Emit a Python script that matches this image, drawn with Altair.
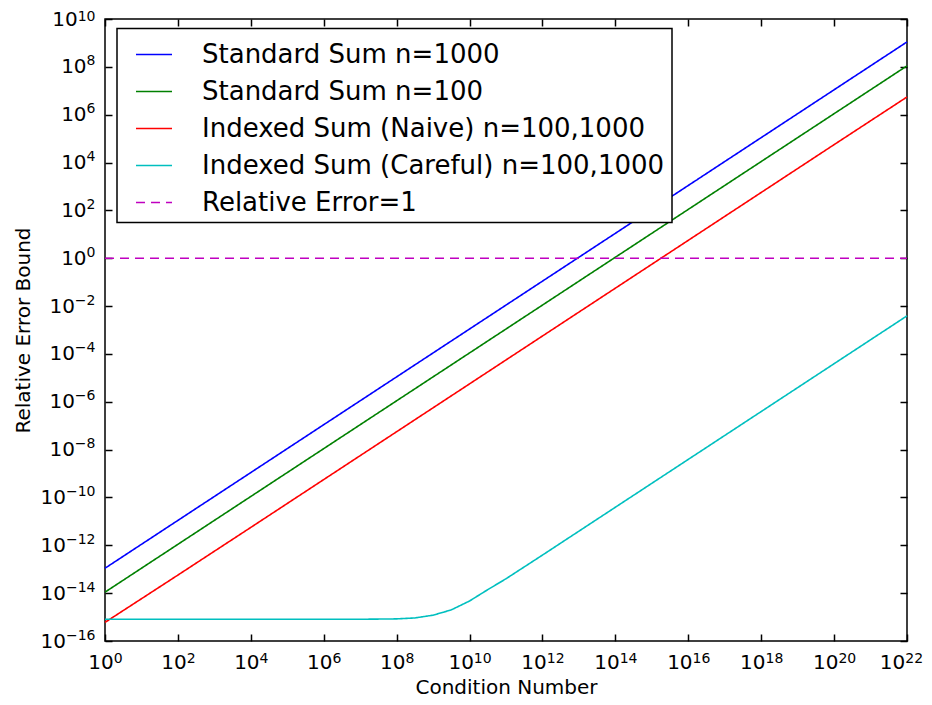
import altair as alt
import pandas as pd

# ---------------- data ----------------
series_names = [
    "Standard Sum n=1000",
    "Standard Sum n=100",
    "Indexed Sum (Naive) n=100,1000",
    "Indexed Sum (Careful) n=100,1000",
    "Relative Error=1",
]
series_colors = ["#0000ff", "#008000", "#ff0000", "#00bfbf", "#bf00bf"]
series_dashes = [[1, 0], [1, 0], [1, 0], [1, 0], [9, 6]]

line_x = [1e0, 1e2, 1e4, 1e6, 1e8, 1e10, 1e12, 1e14, 1e16, 1e18, 1e20, 1e22]
std_1000 = [1.1e-13, 1.1e-11, 1.1e-9, 1.1e-7, 1.1e-5, 1.1e-3, 1.1e-1, 1.1e1, 1.1e3, 1.1e5, 1.1e7, 1.1e9]
std_100 = [1.1e-14, 1.1e-12, 1.1e-10, 1.1e-8, 1.1e-6, 1.1e-4, 1.1e-2, 1.1e0, 1.1e2, 1.1e4, 1.1e6, 1.1e8]
naive = [6.0e-16, 5.7e-14, 5.6e-12, 5.6e-10, 5.6e-8, 5.6e-6, 5.6e-4, 5.6e-2, 5.6e0, 5.6e2, 5.6e4, 5.5e6]

careful_x = [1e0, 1e2, 1e4, 1e6, 1e7, 1e8, 3.16e8, 1e9, 3.16e9, 1e10, 3.16e10, 1e11,
             1e12, 1e14, 1e16, 1e18, 1e20, 1e22]
careful_y = [8.1e-16, 8.1e-16, 8.1e-16, 8.1e-16, 8.1e-16, 8.4e-16, 9.2e-16, 1.2e-15, 2.0e-15,
             4.7e-15, 1.4e-14, 4.0e-14, 3.9e-13, 3.9e-11, 3.9e-9, 3.9e-7, 3.9e-5, 3.9e-3]

ref_x = [1e0, 1e22]
ref_y = [1.0, 1.0]

# tick labels: base "10" and superscript exponent
x_tick_exps = [0, 2, 4, 6, 8, 10, 12, 14, 16, 18, 20, 22]
x_tick_values = [1e0, 1e2, 1e4, 1e6, 1e8, 1e10, 1e12, 1e14, 1e16, 1e18, 1e20, 1e22]
x_tick_exp_labels = ["0", "2", "4", "6", "8", "10", "12", "14", "16", "18", "20", "22"]
y_tick_exps = [-16, -14, -12, -10, -8, -6, -4, -2, 0, 2, 4, 6, 8, 10]
y_tick_values = [1e-16, 1e-14, 1e-12, 1e-10, 1e-8, 1e-6, 1e-4, 1e-2, 1e0, 1e2, 1e4, 1e6, 1e8, 1e10]
y_tick_exp_labels = ["−16", "−14", "−12", "−10", "−8", "−6", "−4", "−2",
                     "0", "2", "4", "6", "8", "10"]
tick_base_label = "10"

x_domain = [1e0, 1e22]
y_domain = [1e-16, 1e10]

# ---------------- build table ----------------
rows = []
for name, xs, ys in [
    (series_names[0], line_x, std_1000),
    (series_names[1], line_x, std_100),
    (series_names[2], line_x, naive),
    (series_names[3], careful_x, careful_y),
    (series_names[4], ref_x, ref_y),
]:
    for xv, yv in zip(xs, ys):
        rows.append({"x": xv, "y": yv, "series": name})
df = pd.DataFrame(rows)

EXP = "round(log(datum.value)/LN10)"


def label_expr(exps, labels):
    e = "''"
    for k, lab in reversed(list(zip(exps, labels))):
        e = f"({EXP} == {k} ? '{lab}' : {e})"
    return e


FONT = "DejaVu Sans"
BASE_SIZE = 20
EXP_SIZE = 14
# advance widths (px) of the pieces, DejaVu Sans
W_BASE = 25.44
W_DIGIT = 8.9
W_MINUS = 11.7
exp_width = f"(({EXP} < 0 ? {W_MINUS} : 0) + (abs({EXP}) >= 10 ? {2 * W_DIGIT} : {W_DIGIT}))"
# keep the outermost labels inside the page
edge_nudge_x = "(datum.value >= 1e21 ? -6 : 0)"
x_shift = alt.ExprRef(expr=f"({W_BASE} - {exp_width}) / 2 + {edge_nudge_x}")
y_base_pad = alt.ExprRef(expr=f"10 + {exp_width}")
y_exp_raise = alt.ExprRef(expr="datum.value >= 1e9 ? -2.5 : -6")

xscale = alt.Scale(type="log", domain=x_domain, nice=False)
yscale = alt.Scale(type="log", domain=y_domain, nice=False)

x_base_axis = alt.Axis(
    orient="bottom", values=x_tick_values, labelExpr=f"'{tick_base_label}'",
    ticks=False, tickSize=0, domain=False, grid=False,
    labelFont=FONT, labelFontSize=BASE_SIZE, labelColor="black", labelPadding=11,
    labelAlign="right", labelOffset=x_shift,
    labelFlush=False, labelOverlap=False,
    title="Condition Number", titleFont=FONT, titleFontSize=20, titleFontWeight="normal",
    titleColor="black", titlePadding=5,
)
x_exp_axis = alt.Axis(
    orient="bottom", values=x_tick_values, labelExpr=label_expr(x_tick_exps, x_tick_exp_labels),
    ticks=False, tickSize=0, domain=False, grid=False,
    labelFont=FONT, labelFontSize=EXP_SIZE, labelColor="black", labelPadding=10,
    labelAlign="left", labelOffset=x_shift,
    labelFlush=False, labelOverlap=False, title=None,
)
y_base_axis = alt.Axis(
    orient="left", values=y_tick_values, labelExpr=f"'{tick_base_label}'",
    ticks=False, tickSize=0, domain=False, grid=False,
    labelFont=FONT, labelFontSize=BASE_SIZE, labelColor="black", labelPadding=y_base_pad,
    labelAlign="right", labelFlush=False, labelOverlap=False,
    title="Relative Error Bound", titleFont=FONT, titleFontSize=20, titleFontWeight="normal",
    titleColor="black", titlePadding=7,
)
y_exp_axis = alt.Axis(
    orient="left", values=y_tick_values, labelExpr=label_expr(y_tick_exps, y_tick_exp_labels),
    ticks=False, tickSize=0, domain=False, grid=False,
    labelFont=FONT, labelFontSize=EXP_SIZE, labelColor="black", labelPadding=10,
    labelAlign="right", labelOffset=y_exp_raise, labelFlush=False, labelOverlap=False,
    title=None,
)


def tick_axis(orient, values):
    return alt.Axis(
        orient=orient, values=values, offset=-7, ticks=True, tickSize=7, tickWidth=1.5,
        tickColor="black", domain=False, labels=False, grid=False, title=None,
    )


legend = alt.Legend(
    orient="none", legendX=12, legendY=9.5, title=None, direction="vertical",
    symbolType="stroke", symbolSize=1296, symbolStrokeWidth=1.6, symbolOffset=11,
    labelFont=FONT, labelFontSize=26, labelColor="black", labelOffset=29, labelLimit=800,
    labelExpr="datum.label + '\u2004'",
    padding=7, rowPadding=5.0, strokeColor="black", fillColor="white",
)

lines = alt.Chart(df).mark_line(strokeWidth=1.6).encode(
    x=alt.X("x:Q", scale=xscale, axis=x_base_axis),
    y=alt.Y("y:Q", scale=yscale, axis=y_base_axis),
    color=alt.Color("series:N", sort=series_names,
                    scale=alt.Scale(domain=series_names, range=series_colors), legend=legend),
    strokeDash=alt.StrokeDash("series:N", sort=series_names,
                              scale=alt.Scale(domain=series_names, range=series_dashes),
                              legend=legend),
)

exp_labels = alt.Chart(df).mark_point(opacity=0).encode(
    x=alt.X("x:Q", scale=xscale, axis=x_exp_axis),
    y=alt.Y("y:Q", scale=yscale, axis=y_exp_axis),
)
ticks_bl = alt.Chart(df).mark_point(opacity=0).encode(
    x=alt.X("x:Q", scale=xscale, axis=tick_axis("bottom", x_tick_values)),
    y=alt.Y("y:Q", scale=yscale, axis=tick_axis("left", y_tick_values)),
)
ticks_tr = alt.Chart(df).mark_point(opacity=0).encode(
    x=alt.X("x:Q", scale=xscale, axis=tick_axis("top", x_tick_values)),
    y=alt.Y("y:Q", scale=yscale, axis=tick_axis("right", y_tick_values)),
)

chart = (
    alt.layer(lines, exp_labels, ticks_bl, ticks_tr)
    .resolve_axis(x="independent", y="independent")
    .properties(
        width=802, height=622,
        padding={"left": 97, "top": 11, "right": 17, "bottom": 56},
        autosize=alt.AutoSizeParams(type="none"),
        background="white",
    )
    .configure_view(stroke="black", strokeWidth=1.5)
    .configure_legend(strokeWidth=1.5)
)

chart.save("out.html", embed_options={"renderer": "svg", "actions": False})
